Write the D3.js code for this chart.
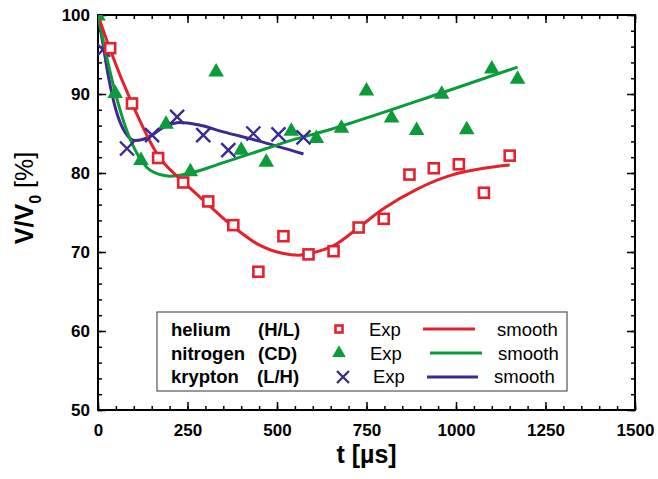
<!DOCTYPE html>
<html><head><meta charset="utf-8">
<script src="https://cdn.jsdelivr.net/npm/d3@7"></script>
<style>body{margin:0;background:#fff}svg{display:block}</style>
</head><body>
<svg id="c" width="658" height="479"></svg>
<script>
// ---- data ----
const heliumT = [34, 95, 168, 238, 308, 378, 448, 518, 588, 658, 728, 798, 870, 938, 1008, 1078, 1150];
const heliumV = [95.8, 88.8, 81.9, 78.8, 76.4, 73.4, 67.5, 72.0, 69.7, 70.1, 73.1, 74.2, 79.8, 80.6, 81.1, 77.5, 82.2];
const nitrogenT = [0, 48, 120, 190, 258, 330, 400, 470, 540, 610, 680, 750, 820, 890, 960, 1030, 1100, 1172];
const nitrogenV = [100, 90.2, 81.7, 86.3, 80.3, 92.9, 83.0, 81.5, 85.4, 84.5, 85.8, 90.5, 87.1, 85.5, 90.1, 85.6, 93.3, 92.0];
const kryptonT = [14, 81, 151, 221, 294, 364, 434, 504, 574];
const kryptonV = [95.6, 83.1, 84.8, 87.1, 84.8, 82.9, 85.0, 84.9, 84.5];

const heliumSmoothT = [0, 34, 95, 168, 238, 308, 378, 450, 518, 560, 600, 658, 728, 798, 893, 985, 1078, 1150];
const heliumSmoothV = [100, 95.6, 88.8, 82.2, 78.9, 76.0, 73.2, 70.9, 69.8, 69.6, 69.9, 70.8, 73.1, 75.5, 78.0, 79.7, 80.6, 81.0];
const nitrogenSmoothT = [0, 25, 48, 80, 115, 155, 202, 258, 330, 397, 470, 537, 649, 705, 957, 1172];
const nitrogenSmoothV = [100, 94.5, 90.2, 85.4, 82.0, 80.1, 79.6, 80.0, 81.0, 82.0, 83.1, 84.1, 85.5, 86.3, 90.1, 93.4];
const kryptonSmoothT = [0, 15, 30, 50, 75, 105, 140, 180, 230, 280, 350, 445, 574];
const kryptonSmoothV = [100, 96.0, 92.0, 88.0, 85.2, 84.1, 84.5, 85.7, 86.4, 86.1, 85.2, 84.1, 82.4];

const xTicks = [0, 250, 500, 750, 1000, 1250, 1500];
const yTicks = [50, 60, 70, 80, 90, 100];
const legendNames = ["helium", "nitrogen", "krypton"];
const legendCodes = ["(H/L)", "(CD)", "(L/H)"];

// ---- layout ----
const RED = "#e2222f", GREEN = "#0b9b3a", PURPLE = "#3b2a8f";
const svg = d3.select("#c");
const L = 98, R = 635, T = 15, B = 410;
const x = d3.scaleLinear().domain([0, 1500]).range([L, R]);
const y = d3.scaleLinear().domain([50, 100]).range([B, T]);

svg.append("defs").append("clipPath").attr("id", "clip")
  .append("rect").attr("x", L).attr("y", T).attr("width", R - L).attr("height", B - T);

const font = "'Liberation Sans', Arial, Helvetica, sans-serif";

function axisGroup(axis, tr) {
  const g = svg.append("g").attr("transform", tr).call(axis);
  g.select(".domain").remove();
  g.selectAll("line").attr("stroke", "#000").attr("stroke-width", 1.5);
  return g;
}
const xMinor = d3.range(0, 1501, 50), yMinor = d3.range(50, 101, 2);
const gb = axisGroup(d3.axisBottom(x).tickValues(xTicks).tickSize(-8).tickPadding(14).tickFormat(d3.format("d")), `translate(0,${B})`);
gb.selectAll("text").attr("font-family", font).attr("font-size", 17).attr("font-weight", "bold").attr("fill", "#000");
axisGroup(d3.axisBottom(x).tickValues(xMinor).tickSize(-4).tickFormat(""), `translate(0,${B})`);
axisGroup(d3.axisTop(x).tickValues(xTicks).tickSize(-8).tickFormat(""), `translate(0,${T})`);
axisGroup(d3.axisTop(x).tickValues(xMinor).tickSize(-4).tickFormat(""), `translate(0,${T})`);
const gl = axisGroup(d3.axisLeft(y).tickValues(yTicks).tickSize(-8).tickPadding(8).tickFormat(d3.format("d")), `translate(${L},0)`);
gl.selectAll("text").attr("font-family", font).attr("font-size", 17).attr("font-weight", "bold").attr("fill", "#000");
axisGroup(d3.axisLeft(y).tickValues(yMinor).tickSize(-4).tickFormat(""), `translate(${L},0)`);
axisGroup(d3.axisRight(y).tickValues(yTicks).tickSize(-8).tickFormat(""), `translate(${R},0)`);
axisGroup(d3.axisRight(y).tickValues(yMinor).tickSize(-4).tickFormat(""), `translate(${R},0)`);

svg.append("rect").attr("x", L).attr("y", T).attr("width", R - L).attr("height", B - T)
  .attr("fill", "none").attr("stroke", "#000").attr("stroke-width", 2);

svg.append("text").attr("x", (L + R) / 2).attr("y", 463).attr("text-anchor", "middle")
  .attr("font-family", font).attr("font-size", 25).attr("font-weight", "bold").text("t [µs]");
const yl = svg.append("text").attr("transform", "translate(33,198) rotate(-90)").attr("text-anchor", "middle")
  .attr("font-family", font).attr("font-size", 25);
yl.append("tspan").attr("font-weight", "bold").text("V/V");
yl.append("tspan").attr("font-weight", "bold").attr("font-size", 16).attr("dy", 8).text("0");
yl.append("tspan").attr("dy", -8).text(" [%]");

const plot = svg.append("g").attr("clip-path", "url(#clip)");
const line = d3.line().x(d => x(d[0])).y(d => y(d[1])).curve(d3.curveMonotoneX);
const zip = (a, b) => a.map((v, i) => [v, b[i]]);

function drawLine(ts, vs, col) {
  plot.append("path").datum(zip(ts, vs)).attr("d", line)
    .attr("fill", "none").attr("stroke", col).attr("stroke-width", 3);
}
const triSym = d3.symbol().type(d3.symbolTriangle).size(105);
function square(g, cx, cy, s) {
  g.append("rect").attr("x", cx - s / 2).attr("y", cy - s / 2).attr("width", s).attr("height", s)
    .attr("fill", "#fff").attr("stroke", RED).attr("stroke-width", 2.6);
}
function tri(g, cx, cy, sym) {
  g.append("path").attr("d", sym()).attr("transform", `translate(${cx},${cy + 1})`).attr("fill", GREEN);
}
function cross(g, cx, cy, s) {
  g.append("path").attr("d", `M${cx - s},${cy - s}L${cx + s},${cy + s}M${cx - s},${cy + s}L${cx + s},${cy - s}`)
    .attr("stroke", PURPLE).attr("stroke-width", 2.4).attr("fill", "none");
}

drawLine(kryptonSmoothT, kryptonSmoothV, PURPLE);
drawLine(nitrogenSmoothT, nitrogenSmoothV, GREEN);
drawLine(heliumSmoothT, heliumSmoothV, RED);

zip(nitrogenT, nitrogenV).forEach(d => tri(plot, x(d[0]), y(d[1]), triSym));
zip(kryptonT, kryptonV).forEach(d => cross(plot, x(d[0]), y(d[1]), 7));
zip(heliumT, heliumV).forEach(d => square(plot, x(d[0]), y(d[1]), 10));

const lg = svg.append("g");
lg.append("rect").attr("x", 157).attr("y", 312).attr("width", 410).attr("height", 79)
  .attr("fill", "#fff").attr("stroke", "#555").attr("stroke-width", 1.2);
const rowBase = [336, 359.5, 383];
const rowMid = [329, 353, 377];
const cols = [RED, GREEN, PURPLE];
const expX = [369, 370, 373];
const lineX = [[423, 475], [430, 482], [427, 478]];
const smoothX = [497, 498, 494];
const codeX = [258, 258, 257];
legendNames.forEach((n, i) => {
  lg.append("text").attr("x", 171).attr("y", rowBase[i]).attr("font-family", font).attr("font-size", 18.5)
    .attr("font-weight", "bold").text(n);
  lg.append("text").attr("x", codeX[i]).attr("y", rowBase[i]).attr("font-family", font).attr("font-size", 18.5)
    .attr("font-weight", "bold").text(legendCodes[i]);
  lg.append("text").attr("x", expX[i]).attr("y", rowBase[i]).attr("font-family", font).attr("font-size", 18.5).text("Exp");
  lg.append("text").attr("x", smoothX[i]).attr("y", rowBase[i]).attr("font-family", font).attr("font-size", 18.5).text("smooth");
  lg.append("line").attr("x1", lineX[i][0]).attr("x2", lineX[i][1]).attr("y1", rowMid[i]).attr("y2", rowMid[i])
    .attr("stroke", cols[i]).attr("stroke-width", 3);
});
square(lg, 339, rowMid[0], 7);
tri(lg, 339, rowMid[1] - 1, d3.symbol().type(d3.symbolTriangle).size(80));
cross(lg, 343, rowMid[2], 6);
</script>
</body></html>
